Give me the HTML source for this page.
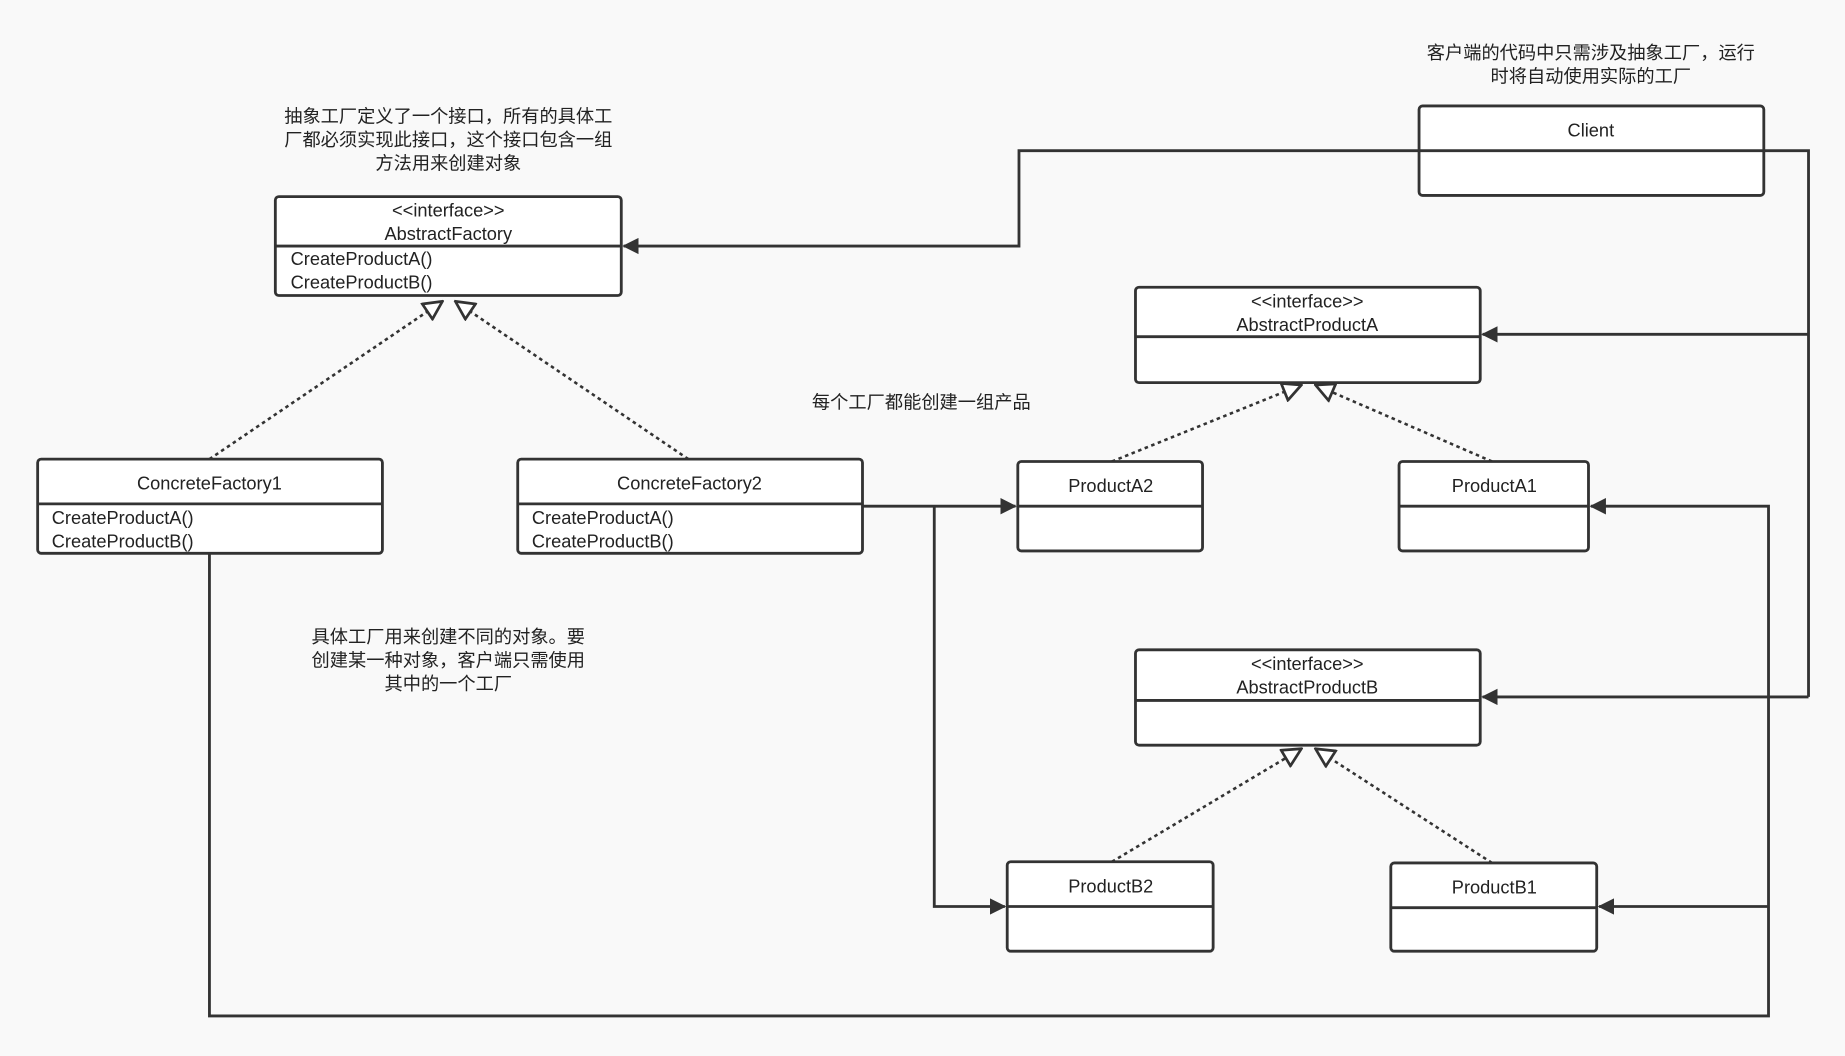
<!DOCTYPE html>
<html><head><meta charset="utf-8"><style>
html,body{margin:0;padding:0;background:#f9f9f9;}
svg{display:block;}
text{font-family:"Liberation Sans","Noto Sans CJK SC",sans-serif;fill:#222;}
.t{font-size:15.5px;text-anchor:middle;}
.m{font-size:15.5px;}
.b{fill:#fff;stroke:#333;stroke-width:2.4;}
.l{fill:none;stroke:#333;stroke-width:2.4;}
.d{fill:none;stroke:#333;stroke-width:2.2;stroke-dasharray:3,3;}
</style></head><body>
<svg width="1845" height="1056" viewBox="0 0 1568 897" preserveAspectRatio="none">
<defs>
<marker id="f" viewBox="0 0 12 12" refX="11" refY="6" markerWidth="14" markerHeight="14" markerUnits="userSpaceOnUse" orient="auto"><path d="M0,0 L12,6 L0,12 z" fill="#333"/></marker>
<marker id="h" viewBox="0 0 14 14" refX="13" refY="7" markerWidth="18" markerHeight="18" markerUnits="userSpaceOnUse" orient="auto"><path d="M1,1 L13,7 L1,13 z" fill="#fff" stroke="#333" stroke-width="1.8"/></marker>
</defs>
<rect width="1568" height="897" fill="#f9f9f9"/>

<!-- connectors -->
<path class="l" d="M1206,128 H866 V209 H530" marker-end="url(#f)"/>
<path class="l" d="M1499,128 H1537 V592"/>
<path class="l" d="M1537,284 H1260" marker-end="url(#f)"/>
<path class="l" d="M1537,592 H1260" marker-end="url(#f)"/>
<path class="l" d="M733,430 H863" marker-end="url(#f)"/>
<path class="l" d="M794,430 V770 H854" marker-end="url(#f)"/>
<path class="l" d="M178,470 V863 H1503 V430 H1352" marker-end="url(#f)"/>
<path class="l" d="M1503,770 H1359" marker-end="url(#f)"/>
<path class="d" d="M178,390 L376,256" marker-end="url(#h)"/>
<path class="d" d="M585,390 L387,256" marker-end="url(#h)"/>
<path class="d" d="M945,392 L1106,327" marker-end="url(#h)"/>
<path class="d" d="M1268,392 L1118,327" marker-end="url(#h)"/>
<path class="d" d="M945,732 L1106,636" marker-end="url(#h)"/>
<path class="d" d="M1268,733 L1118,636" marker-end="url(#h)"/>

<!-- boxes -->
<rect class="b" x="234" y="167" width="294" height="84" rx="3"/><line class="l" x1="234" y1="209" x2="528" y2="209"/>
<text class="t" x="381" y="184">&lt;&lt;interface&gt;&gt;</text><text class="t" x="381" y="204">AbstractFactory</text>
<text class="m" x="247" y="225">CreateProductA()</text><text class="m" x="247" y="245">CreateProductB()</text>

<rect class="b" x="1206" y="90" width="293" height="76" rx="3"/><line class="l" x1="1206" y1="128" x2="1499" y2="128"/>
<text class="t" x="1352" y="116">Client</text>

<rect class="b" x="965" y="244" width="293" height="81" rx="3"/><line class="l" x1="965" y1="286" x2="1258" y2="286"/>
<text class="t" x="1111" y="261">&lt;&lt;interface&gt;&gt;</text><text class="t" x="1111" y="281">AbstractProductA</text>

<rect class="b" x="965" y="552" width="293" height="81" rx="3"/><line class="l" x1="965" y1="595" x2="1258" y2="595"/>
<text class="t" x="1111" y="569">&lt;&lt;interface&gt;&gt;</text><text class="t" x="1111" y="589">AbstractProductB</text>

<rect class="b" x="32" y="390" width="293" height="80" rx="3"/><line class="l" x1="32" y1="428" x2="325" y2="428"/>
<text class="t" x="178" y="416">ConcreteFactory1</text>
<text class="m" x="44" y="445">CreateProductA()</text><text class="m" x="44" y="465">CreateProductB()</text>

<rect class="b" x="440" y="390" width="293" height="80" rx="3"/><line class="l" x1="440" y1="428" x2="733" y2="428"/>
<text class="t" x="586" y="416">ConcreteFactory2</text>
<text class="m" x="452" y="445">CreateProductA()</text><text class="m" x="452" y="465">CreateProductB()</text>

<rect class="b" x="865" y="392" width="157" height="76" rx="3"/><line class="l" x1="865" y1="430" x2="1022" y2="430"/>
<text class="t" x="944" y="418">ProductA2</text>
<rect class="b" x="1189" y="392" width="161" height="76" rx="3"/><line class="l" x1="1189" y1="430" x2="1350" y2="430"/>
<text class="t" x="1270" y="418">ProductA1</text>
<rect class="b" x="856" y="732" width="175" height="76" rx="3"/><line class="l" x1="856" y1="770" x2="1031" y2="770"/>
<text class="t" x="944" y="758">ProductB2</text>
<rect class="b" x="1182" y="733" width="175" height="75" rx="3"/><line class="l" x1="1182" y1="771" x2="1357" y2="771"/>
<text class="t" x="1270" y="759">ProductB1</text>

<!-- notes -->
<text class="t" x="381" y="104">抽象工厂定义了一个接口，所有的具体工</text>
<text class="t" x="381" y="124">厂都必须实现此接口，这个接口包含一组</text>
<text class="t" x="381" y="144">方法用来创建对象</text>
<text class="t" x="1352" y="50">客户端的代码中只需涉及抽象工厂，运行</text>
<text class="t" x="1352" y="70">时将自动使用实际的工厂</text>
<text class="t" x="783" y="347">每个工厂都能创建一组产品</text>
<text class="t" x="381" y="546">具体工厂用来创建不同的对象。要</text>
<text class="t" x="381" y="566">创建某一种对象，客户端只需使用</text>
<text class="t" x="381" y="586">其中的一个工厂</text>
</svg>
</body></html>
